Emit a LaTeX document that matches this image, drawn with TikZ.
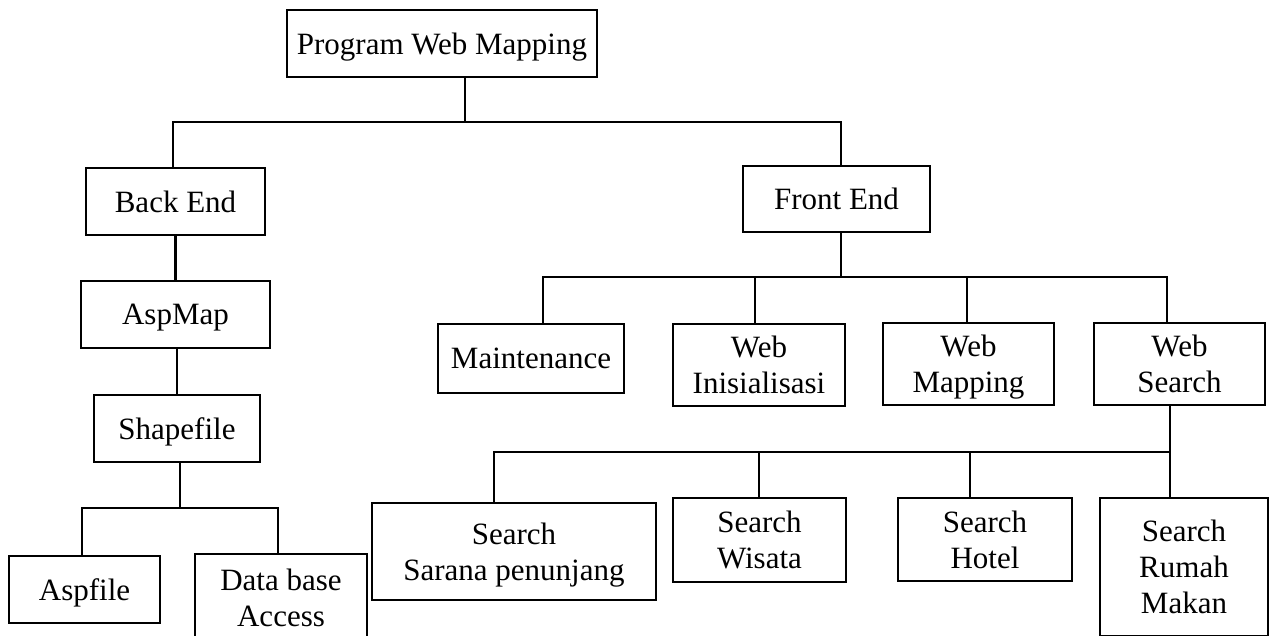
\documentclass[tikz,border=0pt]{standalone}
\usepackage{fontspec}
\setmainfont{Liberation Serif}
\begin{document}
\begin{tikzpicture}[x=1pt,y=-1pt,
  box/.style={draw, line width=2.2pt, inner sep=0pt, align=center,
    text depth=0pt, font=\fontsize{31}{36}\selectfont},
  link/.style={line width=2.2pt}]
\useasboundingbox (0,0) rectangle (1271,635);
\clip (0,0) rectangle (1271,635);

% root
\node[box, minimum width=310pt, minimum height=67pt] (pwm) at (442,43.5) {Program Web Mapping};

% back end branch
\node[box, minimum width=179pt, minimum height=67pt] (be)   at (175.5,201.5) {Back End};
\node[box, minimum width=189pt, minimum height=67pt] (asp)  at (175.5,314.5) {AspMap};
\node[box, minimum width=166pt, minimum height=67pt] (shp)  at (177,428.5)   {Shapefile};
\node[box, minimum width=151pt, minimum height=67pt] (aspf) at (84.5,589.5)  {Aspfile};
\node[box, minimum width=172pt, minimum height=88pt] (dba)  at (281,598)     {Data base\\Access};

% front end branch
\node[box, minimum width=187pt, minimum height=66pt] (fe)   at (836.5,199)   {Front End};
\node[box, minimum width=186pt, minimum height=69pt] (mnt)  at (531,358.5)   {Maintenance};
\node[box, minimum width=172pt, minimum height=82pt] (wini) at (759,365)     {Web\\Inisialisasi};
\node[box, minimum width=171pt, minimum height=82pt] (wmap) at (968.5,364)   {Web\\Mapping};
\node[box, minimum width=171pt, minimum height=82pt] (wsrc) at (1179.5,364)  {Web\\Search};

% search pages
\node[box, minimum width=284pt, minimum height=97pt] (srn)  at (514,551.5)   {Search\\Sarana penunjang};
\node[box, minimum width=173pt, minimum height=84pt] (wis)  at (759.5,540)   {Search\\Wisata};
\node[box, minimum width=174pt, minimum height=83pt] (htl)  at (985,539.5)   {Search\\Hotel};
\node[box, minimum width=168pt, minimum height=138pt] (rmh) at (1184,567)    {Search\\Rumah\\Makan};

% bus junctions
\coordinate (bus0) at (465,122);
\coordinate (bus1) at (180,508);
\coordinate (bus2) at (841,277);
\coordinate (bus3) at (1170,452);

% root to back end / front end
\draw[link] ([xshift=23pt]pwm.south) -- (bus0);
\draw[link] ([xshift=-2.5pt]be.north) |- (bus0) -| ([xshift=4.5pt]fe.north);

% back end chain
\draw[link] (be.south) -- (asp.north);
\draw[link] ([xshift=1.5pt]asp.south) -- (shp.north);
\draw[link] (shp.south -| bus1) -- (bus1);
\draw[link] ([xshift=-2.5pt]aspf.north) |- (bus1) -| ([xshift=-3pt]dba.north);

% front end children
\draw[link] ([xshift=4.5pt]fe.south) -- (bus2);
\draw[link] ([xshift=12pt]mnt.north) |- (bus2) -| ([xshift=-12.5pt]wsrc.north);
\draw[link] ([xshift=-4pt]wini.north) |- (bus2);
\draw[link] ([xshift=-1.5pt]wmap.north) |- (bus2);

% web search children
\draw[link] ([xshift=-9.5pt]wsrc.south) -- ([xshift=-14pt]rmh.north);
\draw[link] ([xshift=-20pt]srn.north) |- (bus3);
\draw[link] ([xshift=-0.5pt]wis.north) |- (bus3);
\draw[link] ([xshift=-15pt]htl.north) |- (bus3);
\end{tikzpicture}
\end{document}
